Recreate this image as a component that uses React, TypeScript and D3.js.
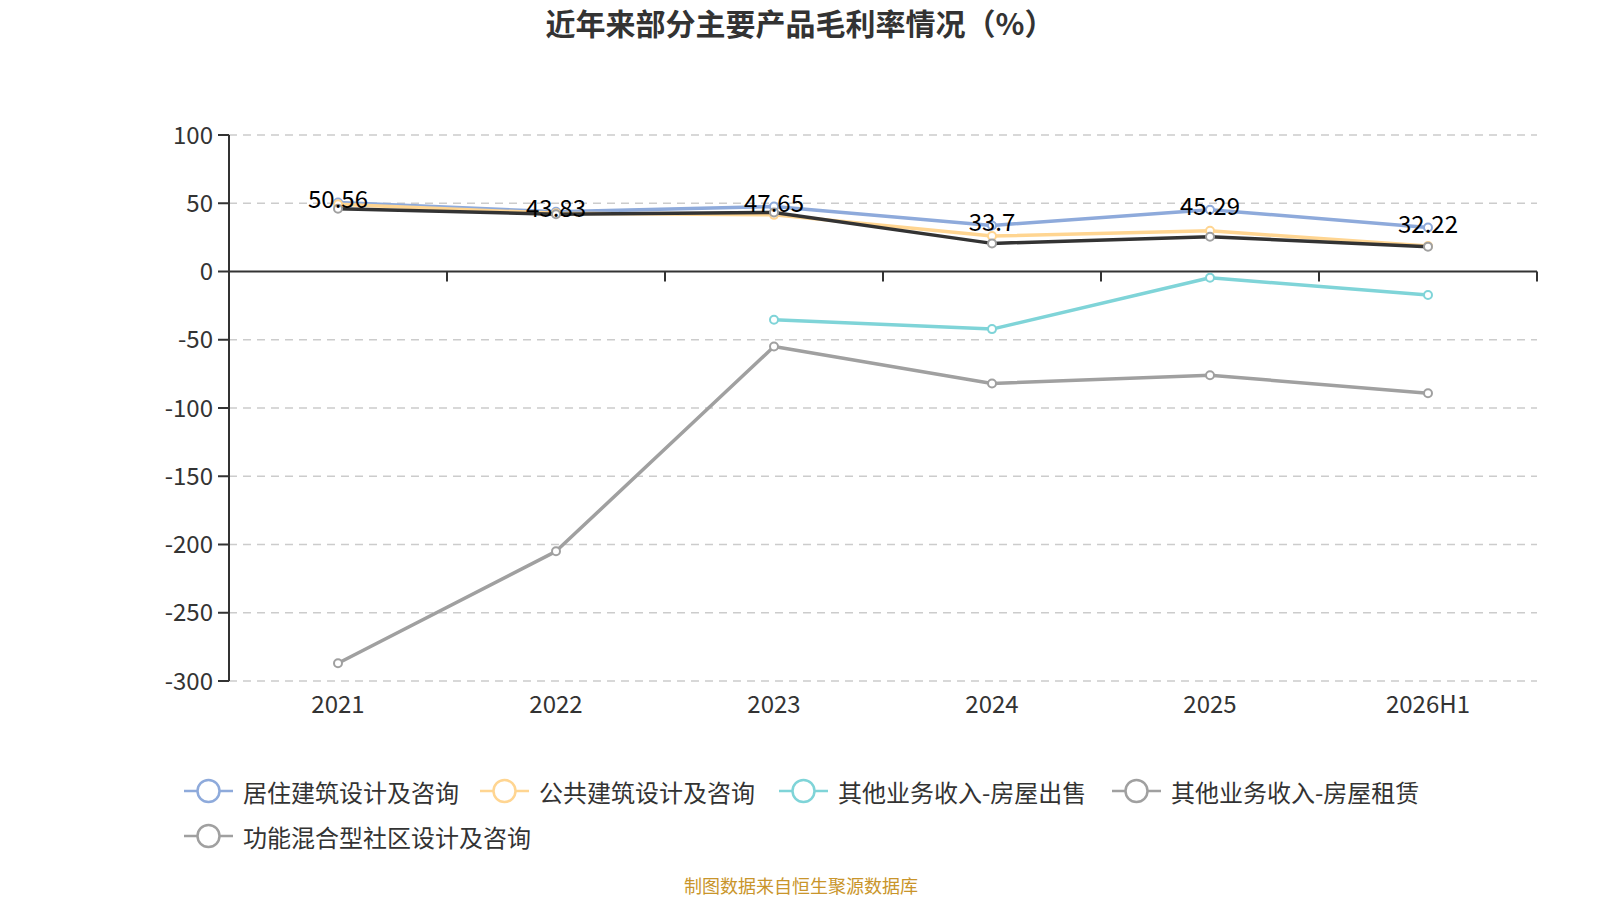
import { useMemo } from 'react';
import * as d3 from 'd3';

const categories = ['2021', '2022', '2023', '2024', '2025', '2026H1'];

const residential = [50.56, 43.83, 47.65, 33.7, 45.29, 32.22];
const publicBuilding = [49.2, 42.6, 41.5, 26.0, 29.8, 18.6];
const houseSales = [null, null, -35.3, -42.2, -4.6, -17.2];
const houseRental = [-287, -205, -55, -82, -76, -89.2];
const mixedUse = [46.0, 42.0, 43.3, 20.6, 25.5, 18.2];

const yTicks = [100, 50, 0, -50, -100, -150, -200, -250, -300];

interface Series {
  name: string;
  values: (number | null)[];
  line: string;
  marker: string;
  labels?: boolean;
}

const series: Series[] = [
  { name: '居住建筑设计及咨询', values: residential, line: '#8eaadb', marker: '#8eaadb', labels: true },
  { name: '公共建筑设计及咨询', values: publicBuilding, line: '#ffd591', marker: '#ffd591' },
  { name: '其他业务收入-房屋出售', values: houseSales, line: '#7fd4d8', marker: '#7fd4d8' },
  { name: '其他业务收入-房屋租赁', values: houseRental, line: '#a0a0a0', marker: '#a0a0a0' },
  { name: '功能混合型社区设计及咨询', values: mixedUse, line: '#333333', marker: '#a0a0a0' },
];

const WIDTH = 1600;
const HEIGHT = 900;
const margin = { left: 229, right: 63, top: 135, bottom: 219 };
const FONT = '"Noto Sans CJK SC", "Noto Sans", sans-serif';

// legend item positions (x of icon start, row centre)
const legendLayout = [
  { x: 184, y: 791 },
  { x: 480, y: 791 },
  { x: 779, y: 791 },
  { x: 1112, y: 791 },
  { x: 184, y: 836 },
];

const App = () => {
  const x = useMemo(
    () => d3.scaleBand<string>().domain(categories).range([margin.left, WIDTH - margin.right]),
    []
  );
  const y = useMemo(
    () => d3.scaleLinear().domain([-300, 100]).range([HEIGHT - margin.bottom, margin.top]),
    []
  );

  const cx = (c: string) => (x(c) ?? 0) + x.bandwidth() / 2;

  const line = d3
    .line<number | null>()
    .defined((d) => d !== null)
    .x((_, i) => cx(categories[i]))
    .y((d) => y(d as number));

  const bandEdges = categories.map((c) => (x(c) ?? 0) + x.bandwidth());

  return (
    <svg
      width={WIDTH}
      height={HEIGHT}
      style={{ position: 'absolute', left: 0, top: 0, background: '#fff' }}
      fontFamily={FONT}
    >
      <text x={800} y={35} textAnchor="middle" fontSize={30} fontWeight="bold" fill="#333">
        近年来部分主要产品毛利率情况（%）
      </text>

      {/* grid */}
      {yTicks
        .filter((t) => t !== 0)
        .map((t) => (
          <line
            key={t}
            x1={margin.left}
            x2={WIDTH - margin.right}
            y1={y(t)}
            y2={y(t)}
            stroke="#cccccc"
            strokeWidth={1.5}
            strokeDasharray="8 6"
          />
        ))}

      {/* y axis */}
      <line x1={margin.left} x2={margin.left} y1={y(100)} y2={y(-300)} stroke="#333" strokeWidth={2} />
      {yTicks.map((t) => (
        <g key={t}>
          <line x1={margin.left - 11} x2={margin.left} y1={y(t)} y2={y(t)} stroke="#333" strokeWidth={2} />
          <text
            x={margin.left - 16}
            y={y(t) - 2}
            textAnchor="end"
            dominantBaseline="central"
            fontSize={24}
            fill="#333"
          >
            {t}
          </text>
        </g>
      ))}

      {/* x axis at zero */}
      <line x1={margin.left} x2={WIDTH - margin.right} y1={y(0)} y2={y(0)} stroke="#333" strokeWidth={2} />
      {bandEdges.map((e, i) => (
        <line key={i} x1={e} x2={e} y1={y(0)} y2={y(0) + 10} stroke="#333" strokeWidth={2} />
      ))}
      {categories.map((c) => (
        <text key={c} x={cx(c)} y={y(-300) + 21} textAnchor="middle" dominantBaseline="central" fontSize={24} fill="#333">
          {c}
        </text>
      ))}

      {/* lines */}
      {series.map((s) => (
        <g key={s.name}>
          <path d={line(s.values) ?? ''} fill="none" stroke={s.line} strokeWidth={3.5} strokeLinejoin="round" />
          {s.values.map((v, i) =>
            v === null ? null : (
              <circle key={i} cx={cx(categories[i])} cy={y(v)} r={4} fill="#fff" stroke={s.marker} strokeWidth={2} />
            )
          )}
        </g>
      ))}

      {/* data labels */}
      {series
        .filter((s) => s.labels)
        .map((s) =>
          s.values.map((v, i) =>
            v === null ? null : (
              <text
                key={s.name + i}
                x={cx(categories[i])}
                y={y(v) - 5}
                textAnchor="middle"
                dominantBaseline="central"
                fontSize={24}
                fill="#000"
              >
                {v}
              </text>
            )
          )
        )}

      {/* legend */}
      {series.map((s, i) => {
        const { x: lx, y: ly } = legendLayout[i];
        return (
          <g key={s.name}>
            <line x1={lx} x2={lx + 49} y1={ly} y2={ly} stroke={s.marker} strokeWidth={2.5} />
            <circle cx={lx + 24.5} cy={ly} r={11} fill="#fff" stroke={s.marker} strokeWidth={2.5} />
            <text x={lx + 59} y={ly} dominantBaseline="central" fontSize={24} fill="#333">
              {s.name}
            </text>
          </g>
        );
      })}

      <text x={801} y={893} textAnchor="middle" fontSize={18} fill="#c9952b">
        制图数据来自恒生聚源数据库
      </text>
    </svg>
  );
};

export default App;
